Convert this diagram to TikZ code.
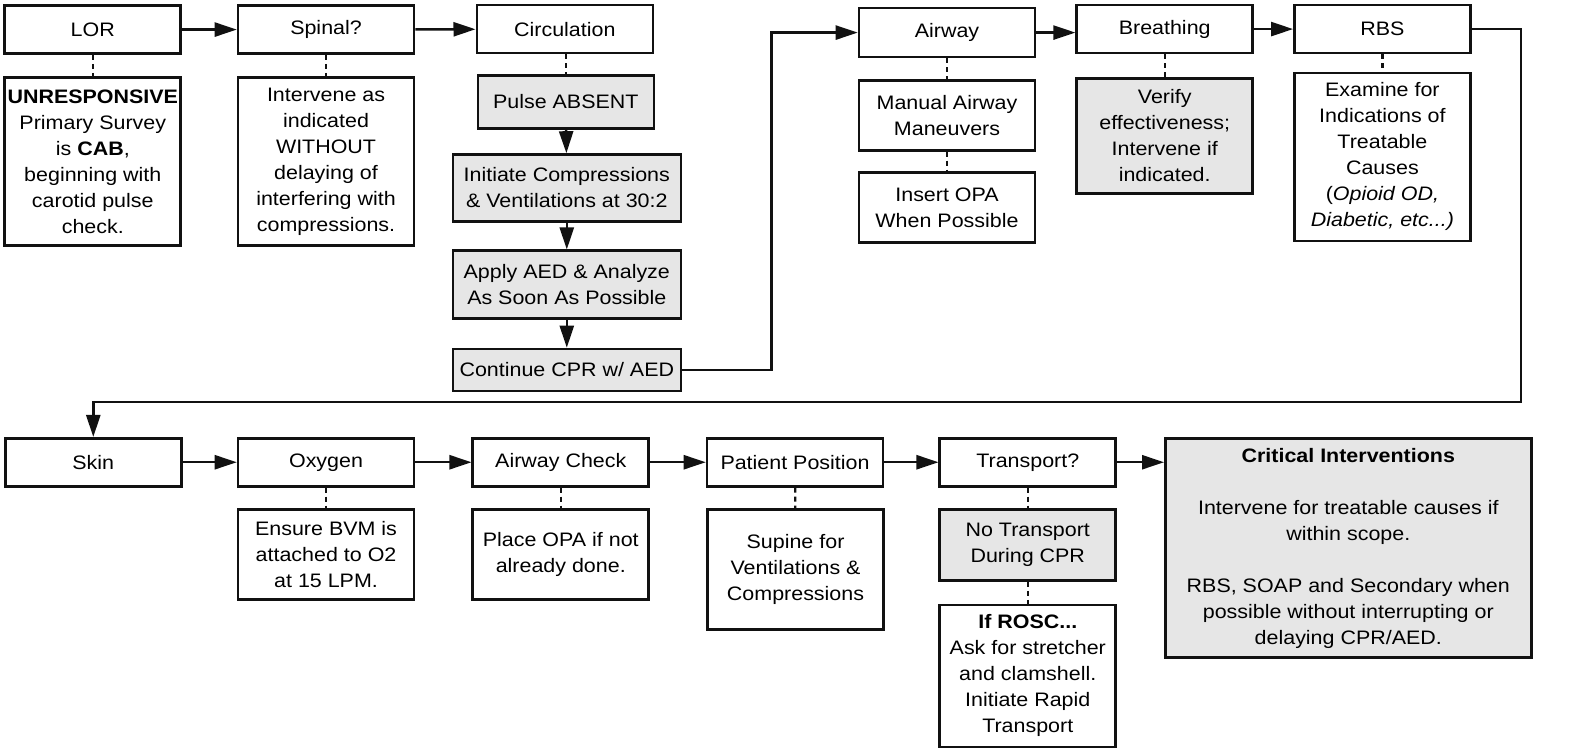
\documentclass[tikz,border=0pt]{standalone}
\usepackage{fontspec}
\setmainfont{Liberation Sans}[FakeStretch=1.1]
\usetikzlibrary{arrows.meta}
\definecolor{StepGray}{HTML}{E6E6E6}
\definecolor{LineBlack}{HTML}{111111}

\tikzset{
  stepbox/.style={draw=LineBlack, line width=2.6pt, fill=white, inner sep=0pt,
    align=center, minimum width=176pt, minimum height=48pt,
    font=\fontsize{19.5}{26}\selectfont},
  shadedbox/.style={stepbox, fill=StepGray},
  flow/.style={draw=LineBlack, line width=2.5pt, -{Triangle[length=22pt,width=14pt]}},
  link/.style={draw=LineBlack, line width=2.3pt, dash pattern=on 5pt off 4pt},
}

\begin{document}
\begin{tikzpicture}[x=1.0032pt, y=-1.0027pt]
  \useasboundingbox (0,0) rectangle (1568,748);

  % first row
  \node[stepbox] (lor) at (92.5,29.5) {LOR};
  \node[stepbox, minimum height=168pt] (unresp) at (92.5,161) {%
    \textbf{UNRESPONSIVE}\\ Primary Survey\\ is \textbf{CAB},\\
    beginning with\\ carotid pulse\\ check.};
  \node[stepbox] (spinal) at (325,29.5) {Spinal?};
  \node[stepbox, minimum height=168pt] (spinalnote) at (325,161) {%
    Intervene as\\ indicated\\ WITHOUT\\ delaying of\\
    interfering with\\ compressions.};
  \node[stepbox] (circ) at (563,29) {Circulation};
  \node[shadedbox, minimum height=53pt] (pulse) at (564,101.5) {Pulse ABSENT};
  \node[shadedbox, minimum width=228pt, minimum height=67pt] (compress) at (565,187.5)
    {Initiate Compressions\\ \& Ventilations at 30:2};
  \node[shadedbox, minimum width=228pt, minimum height=68pt] (aed) at (565,284)
    {Apply AED \& Analyze\\ As Soon As Possible};
  \node[shadedbox, minimum width=228pt, minimum height=42pt] (cpr) at (565,369)
    {Continue CPR w/ AED};
  \node[stepbox, minimum height=49pt] (airway) at (944,32.5) {Airway};
  \node[stepbox, minimum height=70pt] (manual) at (944,115)
    {Manual Airway\\ Maneuvers};
  \node[stepbox, minimum height=70pt] (opa) at (944,207)
    {Insert OPA\\ When Possible};
  \node[stepbox] (breath) at (1161,29) {Breathing};
  \node[shadedbox, minimum height=115pt] (verify) at (1161,135.5)
    {Verify\\ effectiveness;\\ Intervene if\\ indicated.};
  \node[stepbox] (rbs) at (1378,29) {RBS};
  \node[stepbox, minimum height=168pt] (examine) at (1378,156.5) {%
    Examine for\\ Indications of\\ Treatable\\ Causes\\
    (\textit{Opioid OD,}\\ \textit{Diabetic, etc...)}};

  % second row
  \node[stepbox] (skin) at (93,461) {Skin};
  \node[stepbox] (oxygen) at (325,461) {Oxygen};
  \node[stepbox, minimum height=90pt] (bvm) at (325,553)
    {Ensure BVM is\\ attached to O2\\ at 15 LPM.};
  \node[stepbox] (awcheck) at (559,461) {Airway Check};
  \node[stepbox, minimum height=90pt] (placeopa) at (559,553)
    {Place OPA if not\\ already done.};
  \node[stepbox] (position) at (792.5,461) {Patient Position};
  \node[stepbox, minimum height=120pt] (supine) at (793,568)
    {Supine for\\ Ventilations \&\\ Compressions};
  \node[stepbox] (transport) at (1024.5,461) {Transport?};
  \node[shadedbox, minimum height=71pt] (notransport) at (1024.5,543.5)
    {No Transport\\ During CPR};
  \node[stepbox, minimum height=142pt] (rosc) at (1024.5,674) {%
    \textbf{If ROSC...}\\ Ask for stretcher\\ and clamshell.\\
    Initiate Rapid\\ Transport};
  \node[shadedbox, minimum width=366pt, minimum height=219pt] (critical) at (1344,546.5) {%
    \textbf{Critical Interventions}\\[26pt]
    Intervene for treatable causes if\\ within scope.\\[26pt]
    RBS, SOAP and Secondary when\\ possible without interrupting or\\
    delaying CPR/AED.};

  \coordinate (cprbend) at (769,32);
  \coordinate (loopbend) at (1516,401);

  % dashed links
  \draw[link] (lor) -- (unresp);
  \draw[link] (spinal) -- (spinalnote);
  \draw[link] (circ.south -| pulse.north) -- (pulse.north);
  \draw[link] (airway) -- (manual);
  \draw[link] (manual) -- (opa);
  \draw[link] (breath) -- (verify);
  \draw[link] (rbs) -- (examine);
  \draw[link] (oxygen) -- (bvm);
  \draw[link] (awcheck) -- (placeopa);
  \draw[link] (position) -- (supine);
  \draw[link] (transport) -- (notransport);
  \draw[link] (notransport) -- (rosc);

  % arrows
  \draw[flow] (lor) -- (spinal);
  \draw[flow] (spinal) -- (circ);
  \draw[flow] (pulse) -- (compress);
  \draw[flow] (compress) -- (aed);
  \draw[flow] (aed) -- (cpr);
  \draw[flow] (cpr.east) -- (cpr.east -| cprbend) |- (airway.west);
  \draw[flow] (airway.east) -- (airway.east -| breath.west);
  \draw[flow] (breath) -- (rbs);
  \draw[flow] (rbs.east) -| (loopbend) -| (skin.north);
  \draw[flow] (skin) -- (oxygen);
  \draw[flow] (oxygen) -- (awcheck);
  \draw[flow] (awcheck) -- (position);
  \draw[flow] (position) -- (transport);
  \draw[flow] (transport.east) -- (transport.east -| critical.west);
\end{tikzpicture}
\end{document}
